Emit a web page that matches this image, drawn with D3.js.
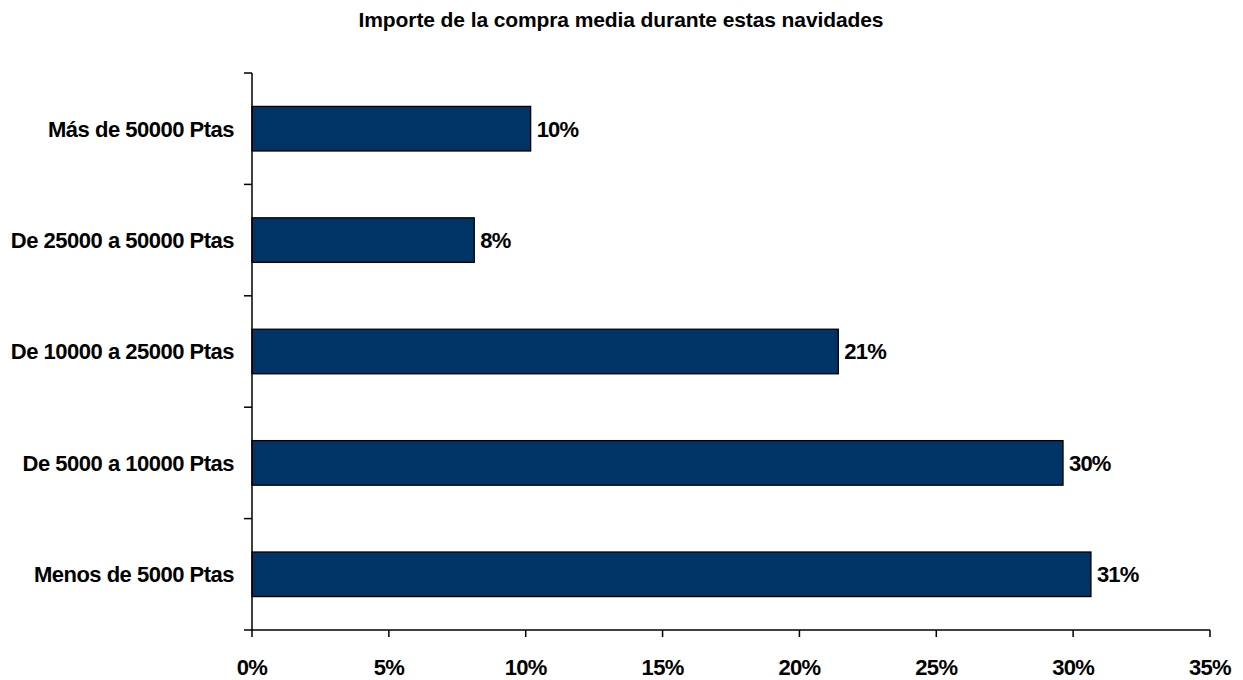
<!DOCTYPE html>
<html><head><meta charset="utf-8">
<script src="https://cdn.jsdelivr.net/npm/d3@7"></script>
<style>body{margin:0;background:#fff}svg{display:block;font-family:"Liberation Sans",Arial,sans-serif}</style>
</head><body><svg id="c" width="1243" height="680"></svg>
<script>
const categories = ["Más de 50000 Ptas","De 25000 a 50000 Ptas","De 10000 a 25000 Ptas","De 5000 a 10000 Ptas","Menos de 5000 Ptas"];
const values = [10.18, 8.12, 21.42, 29.63, 30.65];
const valueLabels = ["10%","8%","21%","30%","31%"];
const xTicks = [0,5,10,15,20,25,30,35];
const title = "Importe de la compra media durante estas navidades";

const svg = d3.select("#c");
const L = 252, R = 1210, T = 73, B = 630;
const x = d3.scaleLinear().domain([0,35]).range([L,R]);
const y = d3.scaleBand().domain(categories).range([T,B]).paddingInner(0.6).paddingOuter(0.3);
const yEdges = d3.scaleLinear().domain([0,categories.length]).range([T,B]);

svg.append("text").attr("x",621).attr("y",27).attr("text-anchor","middle")
  .attr("font-size",21).attr("font-weight","bold").attr("letter-spacing","-0.1")
  .text(title);

// bars
svg.selectAll("rect.bar").data(values).join("rect").attr("class","bar")
  .attr("x",x(0)).attr("y",(d,i)=>y(categories[i]))
  .attr("width",d=>x(d)-x(0)).attr("height",y.bandwidth())
  .attr("fill","#003366").attr("stroke","#000").attr("stroke-width",1.3);

svg.selectAll("text.val").data(values).join("text").attr("class","val")
  .attr("x",d=>x(d)+6).attr("y",(d,i)=>y(categories[i])+y.bandwidth()/2)
  .attr("dy","0.36em").attr("font-size",22).attr("font-weight","bold").attr("letter-spacing","-0.8")
  .text((d,i)=>valueLabels[i]);

// y axis
const g = svg.append("g").attr("stroke","#000").attr("stroke-width",1.5);
g.append("line").attr("x1",L).attr("x2",L).attr("y1",T).attr("y2",B);
g.selectAll("line.yt").data(d3.range(categories.length+1)).join("line").attr("class","yt")
  .attr("x1",L-8).attr("x2",L).attr("y1",d=>yEdges(d)).attr("y2",d=>yEdges(d));
svg.selectAll("text.cat").data(categories).join("text").attr("class","cat")
  .attr("x",234).attr("y",d=>y(d)+y.bandwidth()/2).attr("dy","0.36em")
  .attr("text-anchor","end").attr("font-size",22).attr("font-weight","bold").attr("letter-spacing","-0.5")
  .text(d=>d);

// x axis
g.append("line").attr("x1",L).attr("x2",R).attr("y1",B).attr("y2",B);
g.selectAll("line.xt").data(xTicks).join("line").attr("class","xt")
  .attr("x1",d=>x(d)).attr("x2",d=>x(d)).attr("y1",B).attr("y2",B+7);
svg.selectAll("text.xl").data(xTicks).join("text").attr("class","xl")
  .attr("x",d=>x(d)).attr("y",675).attr("text-anchor","middle")
  .attr("font-size",22).attr("font-weight","bold").attr("letter-spacing","-0.7")
  .text(d=>d+"%");
</script></body></html>
